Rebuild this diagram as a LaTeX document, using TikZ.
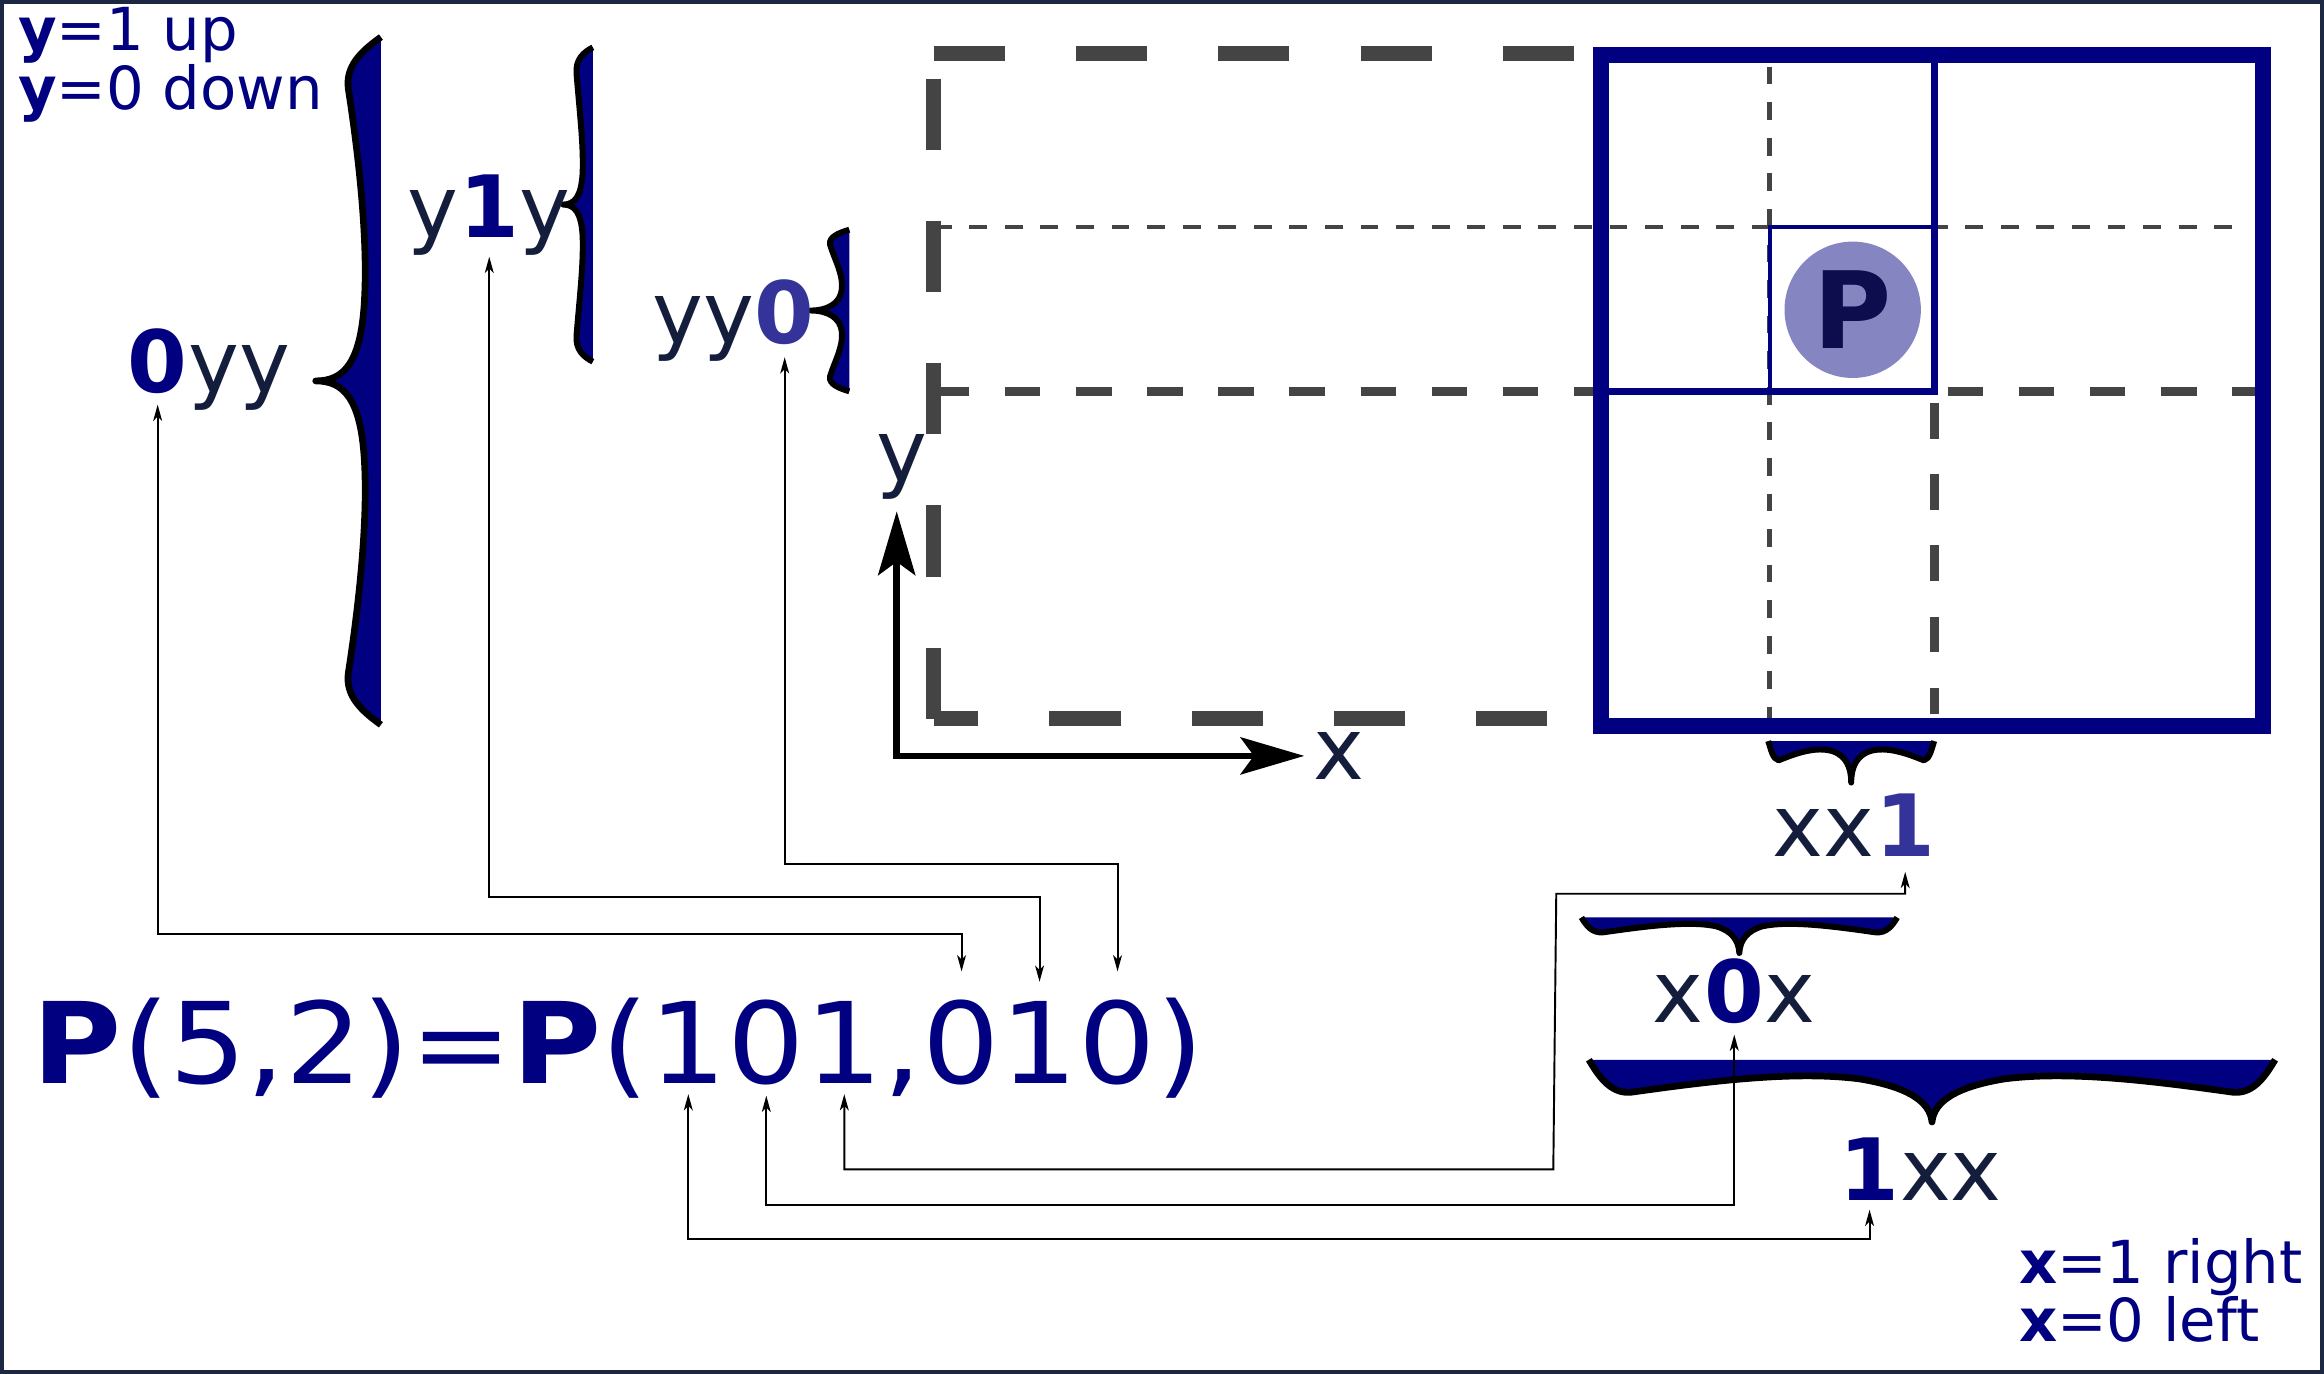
\documentclass[tikz,border=0pt]{standalone}
\usepackage{fontspec}
\setmainfont{DejaVu Sans}
\newfontfamily\widefont{DejaVu Sans}[FakeStretch=1.08]
\usetikzlibrary{arrows.meta}

\definecolor{navy}{HTML}{000080}
\definecolor{paleblue}{HTML}{333399}
\definecolor{ink}{HTML}{141E3C}
\definecolor{dashgray}{HTML}{444444}
\definecolor{dotfill}{HTML}{8585C2}
\definecolor{dotink}{HTML}{0D0D4D}
\definecolor{edge}{HTML}{1C2841}

\begin{document}
\begin{tikzpicture}[x=1pt,y=-1pt,
	lab/.style={inner sep=0pt, anchor=base west, text=ink, font=\fontsize{58}{60}\selectfont},
	labbit/.style={lab, text=navy, font=\fontsize{58}{60}\selectfont\bfseries},
	legend/.style={inner sep=0pt, anchor=base west, text=navy, font=\fontsize{40}{44}\selectfont},
	fbit/.style={inner sep=0pt, anchor=base west, text=navy, font=\widefont\fontsize{76}{78}\selectfont},
	brace/.style={draw=black, line width=4pt, line join=round},
	link/.style={draw=black, line width=1.3pt, >={Stealth[length=11pt,width=6pt,inset=3pt]}, <->},
	axis/.style={line width=4.5pt, >={Stealth[length=43pt,width=25pt,inset=9pt]}, <->},
	bigdash/.style={dashgray, line width=10pt, dash pattern=on 48pt off 48pt},
	middash/.style={dashgray, line width=6pt, dash pattern=on 24pt off 24pt},
	thindash/.style={dashgray, line width=3pt, dash pattern=on 12pt off 12pt}]

	\useasboundingbox (0,0) rectangle (1568,927);
	\draw[edge, line width=3pt] (1.5,1.5) rectangle (1566.5,925.5);

	% legenda
	\node[legend] (legy1) at (12,34) {\textbf{y}=1 up};
	\node[legend] (legy0) at (12,74) {\textbf{y}=0 down};
	\node[legend] (legx1) at (1362,866) {\textbf{x}=1 right};
	\node[legend] (legx0) at (1362,905) {\textbf{x}=0 left};

	% graffe verticali (bit di y)
	\def\braceya{(257,25) .. controls (243,35) and (233,45) .. (235,60)
		.. controls (242,105) and (248,160) .. (246,200)
		.. controls (244,245) and (232,257) .. (213,257)
		.. controls (232,257) and (244,269) .. (246,314)
		.. controls (248,354) and (242,409) .. (235,454)
		.. controls (233,469) and (243,479) .. (257,489)}
	\def\braceyb{(400,32) .. controls (394,35) and (388,40) .. (389,50)
		.. controls (391,75) and (394,100) .. (393,118)
		.. controls (392,132) and (388,138) .. (380,138)
		.. controls (388,138) and (392,144) .. (393,158)
		.. controls (394,176) and (391,201) .. (389,226)
		.. controls (388,236) and (394,241) .. (400,244)}
	\def\braceyc{(573,155) .. controls (566,157) and (559,160) .. (560,165)
		.. controls (563,175) and (569,185) .. (568,195)
		.. controls (567,205) and (558,209.5) .. (547,209.5)
		.. controls (558,209.5) and (567,214) .. (568,224)
		.. controls (569,234) and (563,244) .. (560,254)
		.. controls (559,259) and (566,262) .. (573,264)}
	\fill[navy] \braceya -- cycle;
	\draw[brace, line width=4.5pt] \braceya;
	\fill[navy] \braceyb -- cycle;
	\draw[brace] \braceyb;
	\fill[navy] \braceyc -- cycle;
	\draw[brace] \braceyc;

	\node[labbit] (ly0) at (86,265) {0};
	\node[lab] (ly0b) at (ly0.base east) {yy};
	\node[lab] (ly1a) at (275,160) {y};
	\node[labbit] (ly1) at (ly1a.base east) {1};
	\node[lab] (ly1b) at (ly1.base east) {y};
	\node[lab] (ly2a) at (440,232) {yy};
	\node[labbit, text=paleblue] (ly2) at (ly2a.base east) {0};

	% cella di sinistra (tratteggio)
	\draw[bigdash] (630,36) -- (1075,36);
	\draw[bigdash] (630,53) -- (630,487);
	\draw[bigdash, dash phase=18pt] (630,485) -- (1045,485);
	\draw[thindash] (630,153) -- (1515,153);
	\draw[thindash] (1194,45) -- (1194,485);
	\draw[middash] (630,264) -- (1080,264);
	\draw[middash] (1314,264) -- (1530,264);
	\draw[middash] (1305,272) -- (1305,482);

	% cella con il punto
	\draw[navy, line width=10.5pt] (1080,37) rectangle (1527,490);
	\draw[navy, line width=5pt] (1305,37) -- (1305,264) -- (1080,264);
	\draw[navy, line width=2.6pt] (1194,264) -- (1194,153) -- (1305,153);
	\node[circle, fill=dotfill, minimum size=92pt, inner sep=0pt, text=dotink,
		font=\fontsize{72}{72}\selectfont\bfseries] (pt) at (1250,209) {P};

	% assi
	\coordinate (orig) at (605,510);
	\coordinate (ytip) at (605,345);
	\coordinate (xtip) at (880,510);
	\draw[axis] (ytip) -- (orig) -- (xtip);
	\node[lab] (ylab) at (591,325) {y};
	\node[lab] (xlab) at (886,526) {x};

	% graffe orizzontali (bit di x)
	\def\bracexa{(1193,500) .. controls (1195,506) and (1196,512) .. (1200,513)
		.. controls (1210,509) and (1225,503) .. (1237,507)
		.. controls (1245,510) and (1249,517) .. (1249,528)
		.. controls (1249,517) and (1253,510) .. (1261,507)
		.. controls (1273,503) and (1288,509) .. (1298,513)
		.. controls (1302,512) and (1303,506) .. (1305,500)}
	\def\bracexb{(1067,619) .. controls (1070,624) and (1074,630) .. (1082,629)
		.. controls (1110,625) and (1140,621) .. (1158,625)
		.. controls (1168,628) and (1173,634) .. (1173.5,643)
		.. controls (1174,634) and (1179,628) .. (1189,625)
		.. controls (1207,621) and (1237,625) .. (1265,629)
		.. controls (1273,630) and (1277,624) .. (1280,619)}
	\def\bracexc{(1072,715) .. controls (1078,725) and (1086,738) .. (1100,737)
		.. controls (1150,730) and (1210,722) .. (1255,728)
		.. controls (1285,733) and (1302,742) .. (1303.5,757)
		.. controls (1305,742) and (1322,733) .. (1352,728)
		.. controls (1397,722) and (1457,730) .. (1507,737)
		.. controls (1521,738) and (1529,725) .. (1535,715)}
	\fill[navy] \bracexa -- cycle;
	\draw[brace] \bracexa;
	\fill[navy] \bracexb -- cycle;
	\draw[brace] \bracexb;
	\fill[navy] \bracexc -- cycle;
	\draw[brace, line width=4.5pt] \bracexc;

	\node[lab] (lx3a) at (1196,578) {xx};
	\node[labbit, text=paleblue] (lx3) at (lx3a.base east) {1};
	\node[lab] (lx2a) at (1115,690) {x};
	\node[labbit] (lx2) at (lx2a.base east) {0};
	\node[lab] (lx2b) at (lx2.base east) {x};
	\node[labbit] (lx1) at (1241,810) {1};
	\node[lab] (lx1b) at (lx1.base east) {xx};

	% P(5,2)=P(101,010)
	\node[fbit] (fhead) at (22,731) {\textbf{P}(5,2)=\textbf{P}(};
	\node[fbit] (fx1) at (fhead.base east) {1};
	\node[fbit] (fx2) at (fx1.base east) {0};
	\node[fbit] (fx3) at (fx2.base east) {1};
	\node[fbit] (fcomma) at (fx3.base east) {,};
	\node[fbit] (fy0) at (fcomma.base east) {0};
	\node[fbit] (fy1) at (fy0.base east) {1};
	\node[fbit] (fy2) at (fy1.base east) {0};
	\node[fbit] (ftail) at (fy2.base east) {)};

	% collegamenti y
	\draw[link, shorten <=7pt, shorten >=19pt] (ly0.south) |- (fy0.north |- 0,630) -- (fy0.north);
	\draw[link, shorten <=13pt, shorten >=13pt] (ly1.south) |- (fy1.north |- 0,605) -- (fy1.north);
	\draw[link, shorten <=8pt, shorten >=19pt] (ly2.south) |- (fy2.north |- 0,583) -- (fy2.north);

	% collegamenti x
	\draw[link, shorten <=7pt, shorten >=6pt] (fx1.south) |- (lx1.south |- 0,836) -- (lx1.south);
	\draw[link, shorten <=7pt, shorten >=7pt] (fx2.south) |- (lx2.south |- 0,813) -- (lx2.south);
	\draw[link, shorten <=7pt, shorten >=10pt] (fx3.south) |- (1048,789) -- (1050,603) -| (lx3.south);
\end{tikzpicture}
\end{document}
